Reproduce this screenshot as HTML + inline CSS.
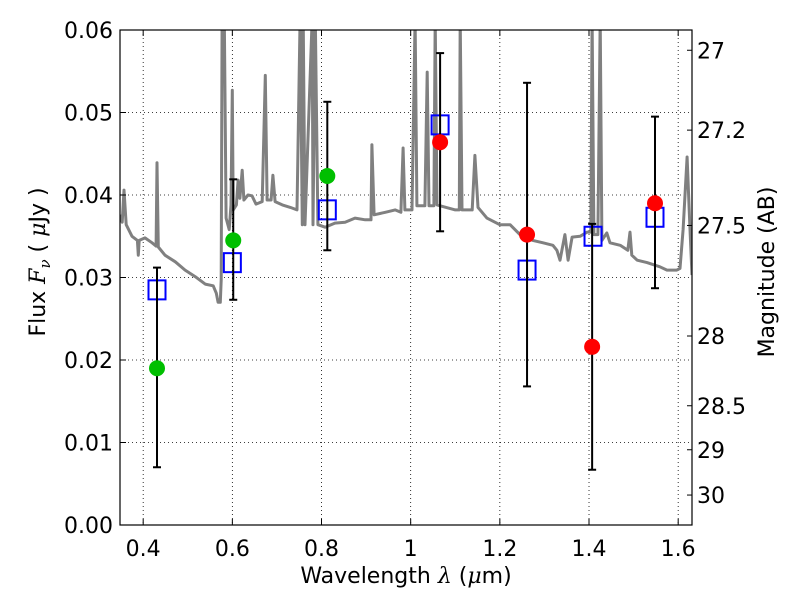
<!DOCTYPE html>
<html><head><meta charset="utf-8"><style>
body{margin:0;background:#fff;}
svg{display:block;font-family:"DejaVu Sans","Liberation Sans",sans-serif;}
</style></head><body>
<svg id="chart" width="800" height="600" xmlns="http://www.w3.org/2000/svg">
<rect width="800" height="600" fill="#fff"/>
<defs><clipPath id="clip"><rect x="120" y="30" width="572" height="495"/></clipPath></defs>
<g id="grid"></g>
<g id="plot" clip-path="url(#clip)"></g>
<rect x="120" y="30" width="572" height="495" fill="none" stroke="#000" stroke-width="1.2"/>
<g id="axes"></g>
<text x="406" y="583" text-anchor="middle" font-size="22">Wavelength  <tspan font-family="DejaVu Serif" font-style="italic">λ</tspan> (<tspan font-family="DejaVu Serif" font-style="italic">μ</tspan>m)</text>
<text transform="translate(45,262) rotate(-90)" text-anchor="middle" font-size="22">Flux  <tspan font-family="DejaVu Serif" font-style="italic">F<tspan font-size="15" dy="5">ν</tspan></tspan><tspan dy="-5">  (  </tspan><tspan font-family="DejaVu Serif" font-style="italic">μ</tspan>Jy )</text>
<text transform="translate(774,272) rotate(-90)" text-anchor="middle" font-size="22">Magnitude (AB)</text>
</svg>
<script>
const xTicks=[0.4,0.6,0.8,1.0,1.2,1.4,1.6];
const xTickLabels=["0.4","0.6","0.8","1","1.2","1.4","1.6"];
const yTicks=[0,0.01,0.02,0.03,0.04,0.05,0.06];
const yTickLabels=["0.00","0.01","0.02","0.03","0.04","0.05","0.06"];
const magTicks=[27,27.2,27.5,28,28.5,29,30];
const magTickLabels=["27","27.2","27.5","28","28.5","29","30"];
const specWave=[0.348,0.353,0.357,0.362,0.375,0.387,0.389,0.391,0.404,0.420,0.429,0.431,0.434,0.449,0.472,0.494,0.517,0.539,0.557,0.564,0.568,0.573,0.575,0.577,0.582,0.586,0.593,0.597,0.600,0.602,0.609,0.613,0.617,0.622,0.626,0.635,0.644,0.653,0.667,0.674,0.678,0.687,0.691,0.696,0.712,0.730,0.745,0.752,0.757,0.759,0.763,0.779,0.781,0.786,0.792,0.808,0.830,0.853,0.875,0.898,0.911,0.913,0.918,0.943,0.965,0.978,0.983,0.987,1.003,1.010,1.014,1.032,1.037,1.041,1.052,1.055,1.059,1.100,1.109,1.111,1.115,1.138,1.144,1.151,1.171,1.200,1.223,1.245,1.274,1.297,1.319,1.328,1.335,1.346,1.353,1.362,1.380,1.396,1.404,1.407,1.411,1.420,1.425,1.429,1.440,1.447,1.470,1.487,1.492,1.496,1.508,1.530,1.559,1.575,1.597,1.604,1.611,1.620,1.626,1.631];
const specFlux=[0.0376,0.0367,0.0406,0.0364,0.0350,0.0345,0.0327,0.0345,0.0348,0.0342,0.0338,0.0439,0.0337,0.0327,0.0319,0.0309,0.0301,0.0292,0.0290,0.0281,0.0270,0.0270,0.0297,0.0615,0.0615,0.0372,0.0358,0.0388,0.0527,0.0382,0.0388,0.0418,0.0396,0.0430,0.0394,0.0400,0.0399,0.0389,0.0392,0.0545,0.0394,0.0394,0.0424,0.0392,0.0388,0.0385,0.0382,0.0615,0.0364,0.0615,0.0364,0.0615,0.0364,0.0615,0.0364,0.0361,0.0366,0.0367,0.0372,0.0370,0.0370,0.0461,0.0376,0.0379,0.0382,0.0379,0.0457,0.0382,0.0382,0.0615,0.0387,0.0387,0.0549,0.0387,0.0387,0.0615,0.0388,0.0382,0.0382,0.0615,0.0382,0.0382,0.0448,0.0385,0.0372,0.0364,0.0364,0.0352,0.0345,0.0342,0.0339,0.0333,0.0321,0.0352,0.0321,0.0349,0.0350,0.0355,0.0355,0.0615,0.0352,0.0352,0.0615,0.0345,0.0354,0.0342,0.0339,0.0333,0.0355,0.0327,0.0321,0.0318,0.0313,0.0309,0.0309,0.0311,0.0358,0.0446,0.0364,0.0303];
const modelWave=[0.431,0.600,0.813,1.066,1.261,1.409,1.548];
const modelFlux=[0.0285,0.0318,0.0382,0.0485,0.0309,0.0350,0.0373];
const obsWave=[0.431,0.602,0.813,1.066,1.261,1.407,1.548];
const errLow=[0.0070,0.0273,0.0333,0.0356,0.0168,0.0067,0.0287];
const errHigh=[0.0312,0.0419,0.0513,0.0572,0.0536,0.0365,0.0495];
const greenWave=[0.431,0.602,0.813];
const greenFlux=[0.0190,0.0345,0.0423];
const redWave=[1.066,1.261,1.407,1.548];
const redFlux=[0.0464,0.0352,0.0216,0.0390];

const NS="http://www.w3.org/2000/svg";
const X0=120,X1=692,Y0=525,Y1=30,xmin=0.348,xmax=1.631,ymin=0,ymax=0.06;
function sx(v){return X0+(v-xmin)/(xmax-xmin)*(X1-X0);}
function sy(v){return Y0-(v-ymin)/(ymax-ymin)*(Y0-Y1);}
function magToFlux(m){return Math.pow(10,(23.9-m)/2.5);}
function mk(tag,attrs,parent){const e=document.createElementNS(NS,tag);for(const k in attrs)e.setAttribute(k,attrs[k]);parent.appendChild(e);return e;}
const grid=document.getElementById('grid'),plot=document.getElementById('plot'),axes=document.getElementById('axes');

xTicks.forEach((t,i)=>{
  const x=sx(t);
  const g=mk('line',{x1:x,x2:x,y1:Y1,y2:Y0,stroke:'#000','stroke-width':0.8,'stroke-dasharray':'1,3'},grid);
  
  
  mk('line',{x1:x,x2:x,y1:Y0,y2:Y0-6,stroke:'#000'},axes);
  mk('line',{x1:x,x2:x,y1:Y1,y2:Y1+6,stroke:'#000'},axes);
  const tx=mk('text',{x:x,y:556,'text-anchor':'middle','font-size':22},axes);
  tx.textContent=xTickLabels[i];
  
  
});
yTicks.forEach((t,i)=>{
  const y=sy(t);
  const g=mk('line',{x1:X0,x2:X1,y1:y,y2:y,stroke:'#000','stroke-width':0.8,'stroke-dasharray':'1,3'},grid);
  
  
  mk('line',{x1:X0,x2:X0+6,y1:y,y2:y,stroke:'#000'},axes);
  const tx=mk('text',{x:113,y:y+8,'text-anchor':'end','font-size':22},axes);
  tx.textContent=yTickLabels[i];
  
  
});
magTicks.forEach((m,i)=>{
  const y=sy(magToFlux(m));
  mk('line',{x1:X1-5,x2:X1,y1:y,y2:y,stroke:'#000'},axes);
  const tx=mk('text',{x:697,y:y+8,'font-size':22},axes);
  tx.textContent=magTickLabels[i];
  
  
});

const pts=specWave.map((w,i)=>sx(w).toFixed(1)+','+sy(specFlux[i]).toFixed(1)).join(' ');
const sp=mk('polyline',{points:pts,fill:'none',stroke:'#808080','stroke-width':3,'stroke-linejoin':'round'},plot);



modelWave.forEach((w,i)=>{
  const x=sx(w),y=sy(modelFlux[i]);
  const r=mk('rect',{x:x-8.5,y:y-9.5,width:17,height:19,fill:'none',stroke:'#0000ff','stroke-width':2},plot);
  
  
});
obsWave.forEach((w,i)=>{
  const x=sx(w),y1=sy(errLow[i]),y2=sy(errHigh[i]);
  const g=mk('g',{},plot);
  
  
  mk('line',{x1:x,x2:x,y1:y1,y2:y2,stroke:'#000','stroke-width':2},g);
  mk('line',{x1:x-4,x2:x+4,y1:y1,y2:y1,stroke:'#000','stroke-width':2},g);
  mk('line',{x1:x-4,x2:x+4,y1:y2,y2:y2,stroke:'#000','stroke-width':2},g);
});
greenWave.forEach((w,i)=>{
  const c=mk('circle',{cx:sx(w),cy:sy(greenFlux[i]),r:8,fill:'#00bf00'},plot);
  
  
});
redWave.forEach((w,i)=>{
  const c=mk('circle',{cx:sx(w),cy:sy(redFlux[i]),r:8,fill:'#ff0000'},plot);
  
  
});
</script>
</body></html>
